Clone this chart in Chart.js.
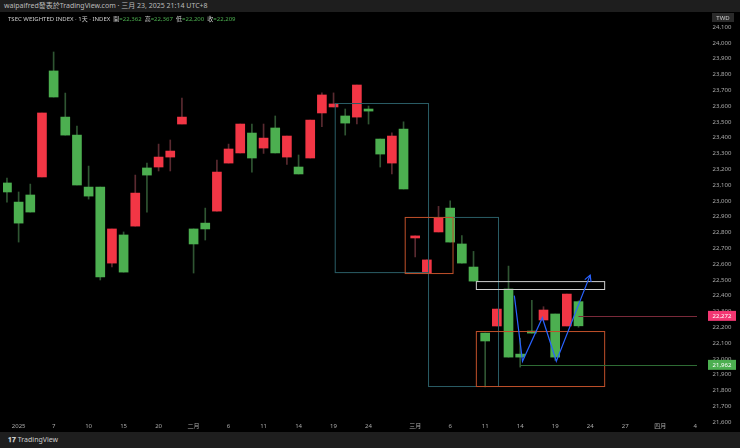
<!DOCTYPE html>
<html><head><meta charset="utf-8">
<script src="https://cdn.jsdelivr.net/npm/chart.js@4"></script>
<style>
html,body{margin:0;padding:0;background:#000;width:740px;height:448px;overflow:hidden;font-family:"Noto Sans","Noto Sans CJK TC",sans-serif}
#top{position:absolute;left:0;top:0;width:740px;height:12px;background:#1e1e1e;color:#bbb;font-size:7px;line-height:12px;padding-left:4px}
#bot{position:absolute;left:0;top:432px;width:740px;height:16px;background:#1e1e1e;color:#ccc;font-size:7px;line-height:16px;padding-left:8px}
#wrap{position:absolute;left:0;top:0;width:740px;height:432px}
#hdr{position:absolute;left:8px;top:14px;font-size:6px;color:#ccc}
#hdr b{font-weight:normal;color:#4caf50}
</style></head><body>
<div id="wrap"><canvas id="c" width="740" height="432"></canvas></div>
<div id="top">waipaifred發表於TradingView.com · 三月 23, 2025 21:14 UTC+8</div>
<div id="hdr">TSEC WEIGHTED INDEX · 1天 · INDEX &nbsp;開<b>=22,362</b> &nbsp;高<b>=22,367</b> &nbsp;低<b>=22,200</b> &nbsp;收<b>=22,209</b></div>
<div id="bot"><b>𝟏𝟕</b> TradingView</div>
<script>
// daily candles, Dec 31 2024 .. Mar 21 2025 (index = trading day)
const opens  = [23113,22992,23037,23151,23822,23530,23416,23087,23087,22606,22784,22840,23208,23214,23277,23486,22822,22859,22935,23239,23303,23429,23334,23461,23277,23214,23271,23556,23594,23537,23530,23581,23391,23239,23454,22765,22543,22803,22954,22727,22581,22163,22208,22442,22030,22176,22246,22284,22208,22362];
const highs  = [23144,23056,23106,23556,23942,23682,23473,23220,23087,22822,22803,23163,23239,23359,23385,23651,22822,22954,23258,23359,23486,23486,23486,23537,23410,23290,23511,23683,23683,23581,23733,23600,23391,23430,23500,22778,22626,22965,23000,22780,22680,22163,22315,22587,22130,22370,22330,22284,22410,22367];
const lows   = [22992,22739,22929,23151,23657,23416,23100,23011,22499,22581,22549,22840,22929,23189,23189,23486,22543,22752,22935,23239,23303,23182,23300,23303,23230,23170,23271,23470,23594,23416,23486,23486,23214,23170,23075,22645,22543,22803,22739,22606,22492,21822,22208,22011,21948,22163,22246,21990,22208,22200];
const closes = [23056,22859,22929,23556,23657,23416,23100,23030,22518,22822,22549,23049,23163,23277,23315,23530,22727,22822,23182,23328,23486,23271,23397,23303,23410,23170,23511,23670,23613,23492,23733,23568,23296,23410,23075,22778,22626,22891,22739,22606,22492,22113,22315,22011,22011,22163,22309,22011,22410,22209];
// x-axis labels at trading-day index (future days projected)
const xTickIdx = [1,4,7,10,13,16,19,22,25,28,31,35,38,41,44,47,50,53,56,59];
const xTickLbl = ['2025','7','10','15','20','二月','6','11','14','19','24','三月','6','11','14','19','24','27','四月','4'];
const yTicks = [21600,21700,21800,21900,22000,22100,22200,22300,22400,22500,22600,22700,22800,22900,23000,23100,23200,23300,23400,23500,23600,23700,23800,23900,24000,24100];
// drawings: [x0,x1,y0,y1,colour]
const boxes = [
  [28.1,36.1,23619,22549,'#2a5d66'],
  [36.1,42.1,22898,21828,'#2a5d66'],
  [34.1,38.2,22898,22543,'#c0502a'],
  [40.2,51.2,22176,21828,'#c0502a'],
  [40.2,51.2,22492,22442,'#cfcfcf']
];
const zigzag = [[43.5,22400],[44.2,21985],[45.9,22260],[47.1,21985],[50,22530]];

const RED='#f23645', GREEN='#4caf50';
const idx = opens.map((_, i) => i);
const up = idx.map(i => closes[i] >= opens[i]);
const col = up.map(u => u ? RED : GREEN);
const wickCol = up.map(u => u ? '#5a2a30' : '#2f5532');

const drawings = {
  id:'drawings',
  afterDatasetsDraw(chart){
    const {ctx, scales:{x,y}, chartArea:a} = chart;
    ctx.save();
    ctx.lineWidth = 1;
    for (const [x0,x1,y0,y1,c] of boxes){
      ctx.strokeStyle = c;
      const px0=x.getPixelForValue(x0), px1=x.getPixelForValue(x1), py0=y.getPixelForValue(y0), py1=y.getPixelForValue(y1);
      ctx.strokeRect(px0+0.5,py0+0.5,px1-px0,py1-py0);
    }
    const lvl = (v, from, c) => {
      const py = Math.round(y.getPixelForValue(v))+0.5;
      ctx.strokeStyle = c; ctx.beginPath(); ctx.moveTo(x.getPixelForValue(from),py); ctx.lineTo(a.right,py); ctx.stroke();
    };
    lvl(22272, 49, '#7a2a3a');
    lvl(21962, 44, '#2e6b34');
    ctx.strokeStyle = '#2962ff'; ctx.lineWidth = 1.2; ctx.beginPath();
    zigzag.forEach(([i,v],k) => { const px=x.getPixelForValue(i), py=y.getPixelForValue(v); k?ctx.lineTo(px,py):ctx.moveTo(px,py); });
    ctx.stroke();
    const [pi,pv]=zigzag[3], [ei,ev]=zigzag[4];
    const ex=x.getPixelForValue(ei), ey=y.getPixelForValue(ev);
    const ang=Math.atan2(ey-y.getPixelForValue(pv), ex-x.getPixelForValue(pi));
    ctx.beginPath();
    ctx.moveTo(ex-7*Math.cos(ang-0.5), ey-7*Math.sin(ang-0.5)); ctx.lineTo(ex,ey);
    ctx.lineTo(ex-7*Math.cos(ang+0.5), ey-7*Math.sin(ang+0.5)); ctx.stroke();
    // right price axis
    ctx.fillStyle = '#000'; ctx.fillRect(a.right,12,740-a.right,420);
    ctx.font = '6px "Noto Sans", "Noto Sans CJK TC"'; ctx.textAlign='center'; ctx.textBaseline='middle';
    ctx.fillStyle = '#aaa';
    for (const t of yTicks) ctx.fillText(t.toLocaleString('en-US'), 722, y.getPixelForValue(t));
    xTickIdx.forEach((v,k) => ctx.fillText(xTickLbl[k], x.getPixelForValue(v), a.bottom+6));
    ctx.fillStyle='#2a2a2a'; ctx.fillRect(712,13,22,9); ctx.fillStyle='#ccc'; ctx.fillText('TWD',723,18);
    const tag = (v, bg) => {
      const py=y.getPixelForValue(v);
      ctx.fillStyle=bg; ctx.fillRect(708,py-5,28,10);
      ctx.fillStyle='#fff'; ctx.fillText(v.toLocaleString('en-US'),722,py+0.5);
    };
    tag(22272, '#f23672'); tag(21962, '#4caf50');
    ctx.restore();
  }
};

new Chart(document.getElementById('c'), {
  type:'bar',
  data:{ datasets:[
    { data: idx.map(i => ({x:i, y:[lows[i], highs[i]]})), backgroundColor:wickCol, barThickness:1, grouped:false, order:2 },
    { data: idx.map(i => ({x:i, y:[opens[i], closes[i]]})), backgroundColor:col, barThickness:9, minBarLength:1, grouped:false, order:1 }
  ]},
  options:{
    animation:false, responsive:false, events:[],
    layout:{ padding:{ left:3, top:12, right:35, bottom:0 } },
    plugins:{ legend:{display:false}, tooltip:{enabled:false} },
    scales:{
      x:{ type:'linear', min:-0.34, max:59.16, offset:false,
          afterBuildTicks: s => { s.ticks = xTickIdx.map(v => ({value:v})); },
          afterFit: s => { s.height = 12; },
          ticks:{ display:false },
          grid:{ display:false }, border:{ display:false } },
      y:{ position:'right', min:21613, max:24195, ticks:{ display:false }, grid:{ display:false }, border:{display:false} }
    }
  },
  plugins:[drawings]
});
</script>
</body></html>
